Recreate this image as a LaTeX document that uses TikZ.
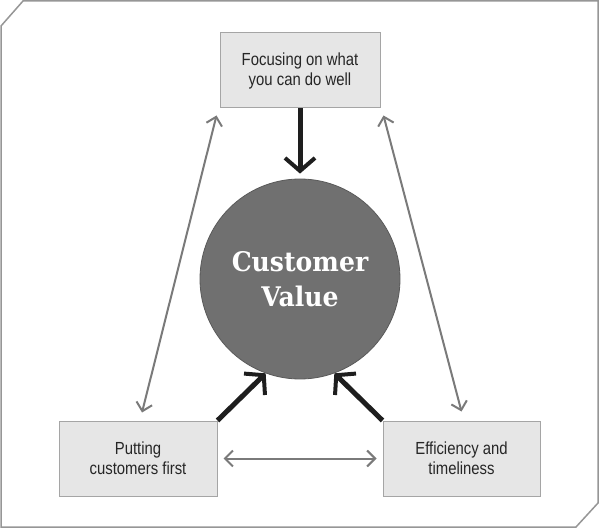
\documentclass[tikz,border=0pt]{standalone}
\usepackage{fontspec}
\newfontfamily\boxfont[FakeStretch=0.85]{Liberation Sans}
\newfontfamily\hubfont[FakeStretch=0.93]{DejaVu Serif}
\definecolor{cvbox}{RGB}{230,230,230}
\definecolor{cvboxline}{RGB}{165,165,165}
\definecolor{cvhub}{RGB}{112,112,112}
\definecolor{cvhubline}{RGB}{90,90,90}
\definecolor{cvlink}{RGB}{122,122,122}
\definecolor{cvpush}{RGB}{30,30,30}
\definecolor{cvframe}{RGB}{150,150,150}
\usetikzlibrary{arrows.meta,positioning,calc}

\begin{document}
\begin{tikzpicture}[x=1pt,y=-1pt,
  valuebox/.style={draw=cvboxline,fill=cvbox,line width=1pt,minimum width=158pt,minimum height=75pt,
    align=center,font=\boxfont\fontsize{17.5}{20}\selectfont,text=black!85},
  hub/.style={circle,draw=cvhubline,fill=cvhub,line width=0.8pt,minimum size=200pt,inner sep=0pt,
    align=center,font=\hubfont\bfseries\fontsize{27}{35}\selectfont,text=white},
  link/.style={draw=cvlink,line width=2pt,{Straight Barb[length=8pt,width=16pt]}-{Straight Barb[length=8pt,width=16pt]}},
  push/.style={draw=cvpush,line width=5pt,-{Straight Barb[length=13pt,width=30pt,line width=4pt]}}]
  \useasboundingbox (0,0) rectangle (600,529);
  % Frame with cut corners
  \draw[cvframe,line width=1.5pt] (1,26) -- (23,1) -- (598,1) -- (598,503) -- (576,527) -- (1,527) -- cycle;
  % Centre
  \node[hub] (cv) at (300,279) {Customer\\Value};
  % Boxes
  \node[valuebox,minimum width=160pt] (fw) at (300,70.5) {Focusing on what\\you can do well};
  \node[valuebox] (pc) at (138,458.5) {Putting\\customers first};
  \node[valuebox,minimum width=157pt] (et) at (461.5,458.5) {Efficiency and\\timeliness};
  % Grey two-way links
  \draw[link] ($(fw.south west)+(-3,7)$) -- ($(pc.north)+(4,-8)$);
  \draw[link] ($(fw.south east)+(3,7)$) -- ($(et.north)+(0,-9)$);
  \draw[link,shorten <=6pt,shorten >=6pt] (pc.east) -- (et.west);
  % Black arrows into the centre
  \draw[push,shorten >=5pt] (fw.south) -- (cv.north);
  \draw[push] (pc.north east) -- (cv.250);
  \draw[push] (et.north west) -- (cv.290);
\end{tikzpicture}
\end{document}
